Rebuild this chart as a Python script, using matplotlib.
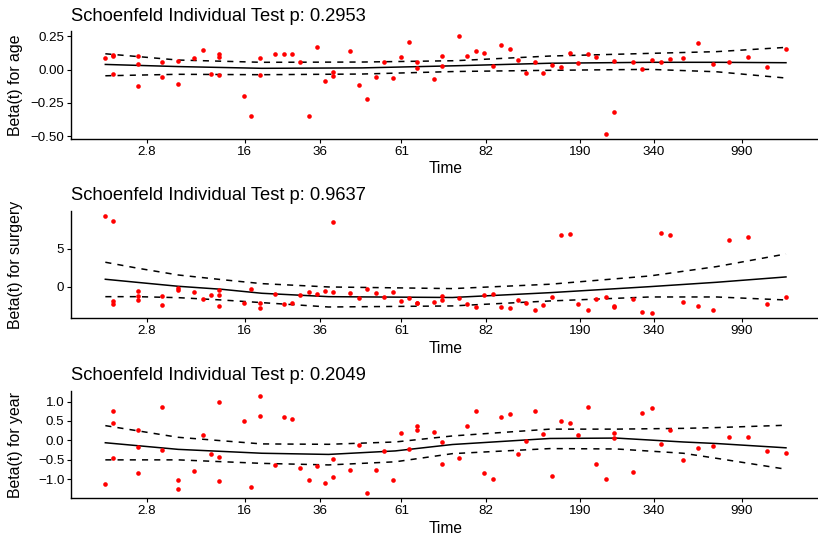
import numpy as np
import matplotlib
matplotlib.use("Agg")
import matplotlib.pyplot as plt
from matplotlib.ticker import FuncFormatter

plt.rcParams['font.family'] = ['Liberation Sans', 'DejaVu Sans']

# event times on the transformed scale (0..1), ties repeated
time_x = [0.000, 0.012, 0.012, 0.012, 0.048, 0.048, 0.048, 0.083, 0.083, 0.107, 0.107,
          0.131, 0.143, 0.155, 0.167, 0.167, 0.167, 0.203, 0.214, 0.227, 0.227,
          0.250, 0.263, 0.274, 0.286, 0.299, 0.311, 0.323, 0.335, 0.335,
          0.359, 0.372, 0.384, 0.397, 0.409, 0.422, 0.434, 0.446, 0.458, 0.458,
          0.483, 0.495, 0.495, 0.520, 0.532, 0.545, 0.557, 0.570, 0.582, 0.594,
          0.606, 0.618, 0.631, 0.643, 0.656, 0.669, 0.682, 0.695, 0.709, 0.721,
          0.735, 0.748, 0.748, 0.775, 0.789, 0.803, 0.816, 0.830, 0.849, 0.871,
          0.893, 0.916, 0.944, 0.972, 1.000]

resid_age = [0.0875, 0.1075, 0.100, -0.035, 0.105, 0.04, -0.1225, 0.055, -0.0575, 0.0625, -0.11,
             0.085, 0.145, -0.0325, 0.12, 0.0975, -0.0425, -0.2, -0.3525, 0.085, -0.0425,
             0.115, 0.1175, 0.12, 0.06, -0.3525, 0.1675, -0.0875, -0.0175, -0.045,
             0.1375, -0.12, -0.2225, -0.055, 0.06, -0.0625, 0.0975, 0.2075, 0.06, 0.0125,
             -0.0725, 0.105, 0.0275, 0.25, 0.105, 0.14, 0.1225, 0.025, 0.185, 0.155,
             0.07, -0.025, 0.0575, -0.025, 0.0375, 0.0175, 0.125, 0.0525, 0.12, 0.095,
             -0.4825, 0.0675, -0.3175, 0.055, 0.0025, 0.07, 0.055, 0.08, 0.0875, 0.2025,
             0.0425, 0.055, 0.095, 0.0175, 0.1525]

resid_surgery = [9.42, 8.76, -1.90, -2.30, -0.58, -1.28, -1.73, -1.24, -2.39, -0.22, -0.44,
                 -0.66, -1.64, -1.15, -0.44, -1.11, -2.61, -2.12, -0.31, -2.21, -2.79,
                 -0.93, -2.26, -2.21, -1.15, -0.66, -0.93, -0.53, 8.54, -0.71,
                 -0.84, -1.50, -0.27, -0.88, -1.42, -0.66, -1.95, -1.55, -2.12, -2.21,
                 -2.08, -1.24, -1.81, -1.46, -2.35, -2.74, -1.11, -1.02, -2.70, -2.79,
                 -1.77, -2.17, -3.05, -2.48, -1.33, 6.81, 6.99, -2.35, -3.14, -1.64,
                 -1.37, -2.52, -2.65, -1.68, -3.36, -3.54, 7.08, 6.81, -2.08, -2.61,
                 -3.10, 6.19, 6.64, -2.26, -1.37]

resid_year = [-1.13, 0.75, 0.45, -0.44, 0.26, -0.17, -0.83, 0.85, -0.24, -1.03, -1.26,
              -0.78, 0.13, -0.36, 0.98, -0.43, -1.04, 0.50, -1.21, 1.15, 0.62,
              -0.63, 0.61, 0.55, -0.72, -1.02, -0.66, -1.09, -0.48, -0.93,
              -0.75, -0.13, -1.36, -0.77, -0.26, -1.02, 0.19, -0.22, 0.38, 0.26,
              0.21, -0.03, -0.60, -0.44, 0.38, 0.75, -0.85, -0.98, 0.60, 0.68,
              -0.34, -0.02, 0.75, 0.16, -0.92, 0.51, 0.44, 0.14, 0.85, -0.60,
              -0.99, 0.20, 0.07, -0.80, 0.70, 0.84, -0.09, 0.27, -0.50, -0.20,
              -0.15, 0.09, 0.09, -0.26, -0.32]

# smooth fit and +/- 2 se bands, read at a few positions
fit_x_age = [0.0, 0.107, 0.230, 0.377, 0.514, 0.653, 0.800, 0.898, 1.0]
fit_age = [0.038, 0.022, 0.009, 0.012, 0.028, 0.047, 0.054, 0.054, 0.051]
upper_age = [0.118, 0.071, 0.054, 0.056, 0.066, 0.101, 0.121, 0.134, 0.166]
lower_age = [-0.047, -0.036, -0.039, -0.034, -0.015, -0.006, 0.001, -0.017, -0.064]

fit_x_surgery = [0.0, 0.048, 0.107, 0.171, 0.230, 0.328, 0.510, 0.653, 0.800, 0.898, 1.0]
fit_surgery = [0.98, 0.56, 0.05, -0.35, -0.88, -1.33, -1.44, -0.80, 0.0, 0.58, 1.29]
upper_surgery = [3.24, 2.44, 1.55, 0.93, 0.40, -0.04, -0.26, 0.32, 1.42, 2.66, 4.34]
lower_surgery = [-1.33, -1.33, -1.46, -1.77, -2.12, -2.70, -2.56, -1.90, -1.37, -1.37, -1.77]

fit_x_year = [0.0, 0.107, 0.230, 0.328, 0.426, 0.510, 0.653, 0.751, 0.849, 0.898, 1.0]
fit_year = [-0.06, -0.23, -0.33, -0.36, -0.27, -0.105, 0.05, 0.06, -0.04, -0.08, -0.19]
upper_year = [0.38, 0.08, -0.09, -0.10, -0.04, 0.115, 0.29, 0.29, 0.31, 0.33, 0.39]
lower_year = [-0.50, -0.50, -0.59, -0.63, -0.55, -0.34, -0.21, -0.22, -0.33, -0.46, -0.74]

time_tick_pos = [0.061, 0.205, 0.315, 0.435, 0.559, 0.697, 0.806, 0.935]
time_tick_labels = ['2.8', '16', '36', '61', '82', '190', '340', '990']

p_values = ['0.2953', '0.9637', '0.2049']
covariates = ['age', 'surgery', 'year']

panels = [
    (resid_age, fit_x_age, fit_age, upper_age, lower_age, [-0.5, -0.25, 0, 0.25], '%.2f'),
    (resid_surgery, fit_x_surgery, fit_surgery, upper_surgery, lower_surgery, [0, 5], '%d'),
    (resid_year, fit_x_year, fit_year, upper_year, lower_year, [-1, -0.5, 0, 0.5, 1], '%.1f'),
]

W, H = 818, 535
fig = plt.figure(figsize=(W / 100, H / 100), dpi=100)

ax_left, ax_right = 71.3, 820.0
ax_h = 107.4
ax_bottoms = [138.7, 318.2, 498.2]  # pixel y of each x axis line

for i, (resid, fx, fit, up, lo, yt, fmt) in enumerate(panels):
    rect = [ax_left / W, 1 - ax_bottoms[i] / H, (ax_right - ax_left) / W, ax_h / H]
    ax = fig.add_axes(rect)
    ax.scatter(time_x, resid, s=11, color='red', zorder=3, linewidths=0)
    ax.plot(fx, fit, color='black', lw=1.1)
    ax.plot(fx, up, color='black', lw=1.1, dashes=(4, 4))
    ax.plot(fx, lo, color='black', lw=1.1, dashes=(4, 4))

    ax.set_xticks(time_tick_pos)
    ax.set_xticklabels(time_tick_labels)
    ax.set_yticks(yt)
    ax.yaxis.set_major_formatter(FuncFormatter(lambda v, p, f=fmt: (f % v).replace('-', '\u2212')))

    for s in ['top', 'right']:
        ax.spines[s].set_visible(False)
    for s in ['left', 'bottom']:
        ax.spines[s].set_linewidth(1.0)
    ax.tick_params(axis='both', labelsize=9.6, length=3, width=0.8, pad=2, colors='black')

    ax.set_title('Schoenfeld Individual Test p: ' + p_values[i], loc='left',
                 fontsize=13.2, pad=7.5)
    ax.set_xlabel('Time', fontsize=11.2)
    ax.xaxis.label.set_verticalalignment('top')
    ax.xaxis.set_label_coords(0.5, -22.5 / ax_h)
    ax.set_ylabel('Beta(t) for ' + covariates[i], fontsize=11.4)
    ax.yaxis.set_label_coords((23 - ax_left) / (ax_right - ax_left), 0.5)

fig.savefig('out.png', dpi=100)
